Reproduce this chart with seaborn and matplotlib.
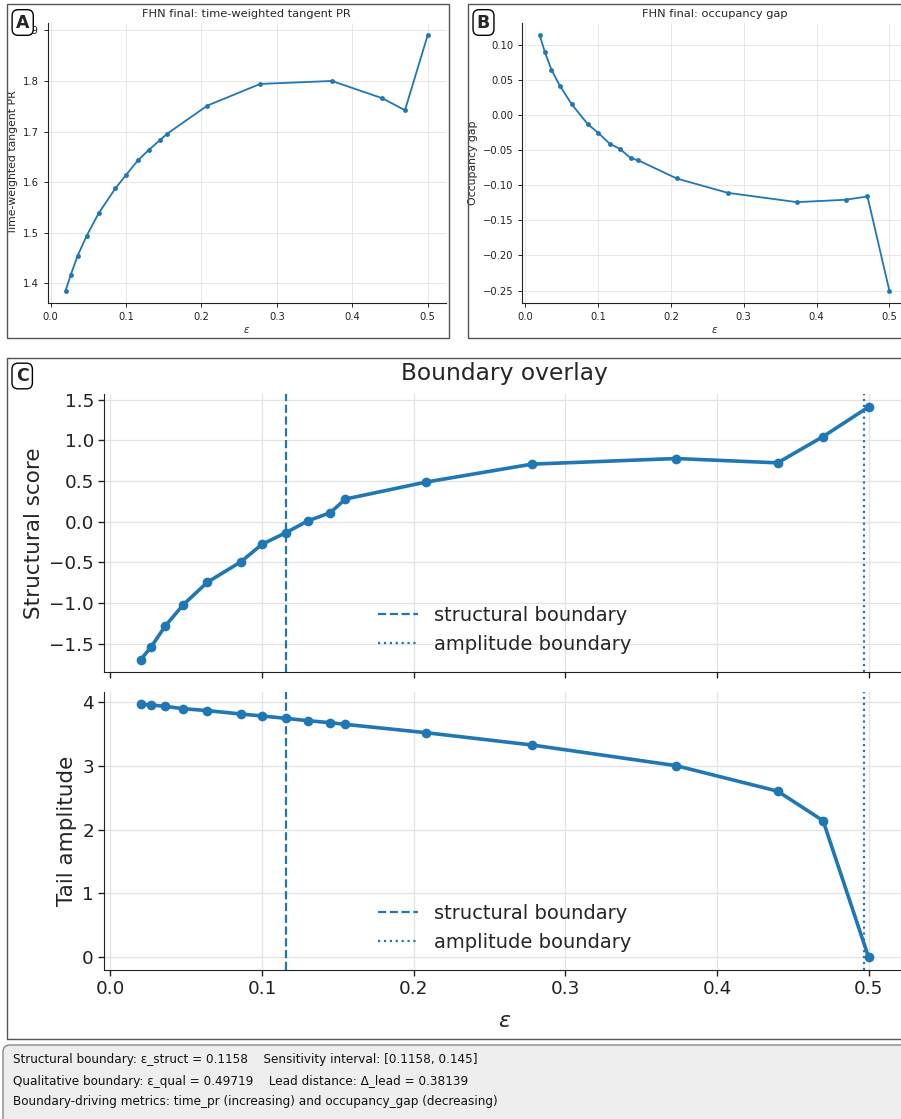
import matplotlib
matplotlib.use("Agg")
import matplotlib.pyplot as plt
import matplotlib.transforms as mtransforms
from matplotlib import font_manager
from matplotlib.patches import Rectangle, FancyBboxPatch
import seaborn as sns

# ---------------- data ----------------
eps = [0.02, 0.027, 0.036, 0.048, 0.064, 0.086, 0.1, 0.1158, 0.13, 0.145,
       0.155, 0.208, 0.278, 0.373, 0.44, 0.47, 0.5]
time_pr = [1.3855, 1.4171, 1.4546, 1.4940, 1.5388, 1.5875, 1.6138, 1.6428,
           1.6632, 1.6829, 1.6960, 1.7513, 1.7941, 1.8000, 1.7658, 1.7421, 1.8900]
occ_gap = [0.1133, 0.0896, 0.0645, 0.0408, 0.0152, -0.0132, -0.0251, -0.0407,
           -0.0483, -0.0615, -0.0644, -0.0904, -0.1108, -0.1241, -0.1207, -0.1160, -0.2500]
struct_score = [-1.696, -1.537, -1.287, -1.022, -0.744, -0.494, -0.278, -0.135,
                0.008, 0.110, 0.278, 0.486, 0.707, 0.776, 0.723, 1.046, 1.410]
tail_amp = [3.958, 3.948, 3.927, 3.890, 3.860, 3.807, 3.776, 3.739, 3.703,
            3.671, 3.645, 3.515, 3.322, 2.999, 2.600, 2.137, 0.000]
eps_struct = 0.1158
eps_qual = 0.49719

info_lines = [
    "Structural boundary: \u03b5_struct = 0.1158    Sensitivity interval: [0.1158, 0.145]",
    "Qualitative boundary: \u03b5_qual = 0.49719    Lead distance: \u0394_lead = 0.38139",
    "Boundary-driving metrics: time_pr (increasing) and occupancy_gap (decreasing)",
]

# ---------------- layout ----------------
sns.set_style("ticks")
plt.rcParams["font.family"] = ["DejaVu Sans"]
C0 = "#1f77b4"
W, H = 901, 1119
fig = plt.figure(figsize=(W / 100, H / 100), dpi=100)


def ax_px(l, t, r, b):
    return fig.add_axes([l / W, 1 - b / H, (r - l) / W, (b - t) / H])


def frame_px(l, t, r, b, **kw):
    rect = Rectangle((l / W, 1 - b / H), (r - l) / W, (b - t) / H,
                     transform=fig.transFigure, fill=False, **kw)
    fig.add_artist(rect)


def style_ax(ax, tick_fs, grid_lw=0.8):
    sns.despine(ax=ax)
    ax.grid(True, color="#e3e3e3", lw=grid_lw)
    ax.set_axisbelow(True)
    ax.tick_params(labelsize=tick_fs, colors="#222222")
    for s in ("left", "bottom"):
        ax.spines[s].set_color("#222222")


# panel frames
frame_px(7.3, 4.3, 449, 338, edgecolor="#555555", lw=1.0)
frame_px(468.3, 4.3, 930, 338, edgecolor="#555555", lw=1.0)
frame_px(7.3, 357.7, 930, 1039, edgecolor="#555555", lw=1.0)

# ---------- Panel A ----------
axA = ax_px(47.5, 22.7, 445.7, 303.3)
sns.lineplot(x=eps, y=time_pr, ax=axA, color=C0, marker="o", markersize=3.5,
             markeredgewidth=0, linewidth=1.3)
style_ax(axA, 7.2, 0.6)
axA.tick_params(length=3, width=0.7)
axA.set_title("FHN final: time-weighted tangent PR", fontsize=8.2, pad=4)
axA.set_ylabel("Time-weighted tangent PR", fontsize=7.8, labelpad=3)
axA.set_xlabel(r"$\epsilon$", fontsize=7.5, labelpad=2)

# ---------- Panel B ----------
axB = ax_px(522.3, 22.7, 906.8, 303.3)
sns.lineplot(x=eps, y=occ_gap, ax=axB, color=C0, marker="o", markersize=3.5,
             markeredgewidth=0, linewidth=1.3)
style_ax(axB, 7.2, 0.6)
axB.tick_params(length=3, width=0.7)
axB.set_title("FHN final: occupancy gap", fontsize=8.2, pad=4)
axB.set_ylabel("Occupancy gap", fontsize=7.8, labelpad=3)
axB.set_xlabel(r"$\epsilon$", fontsize=7.5, labelpad=2)

# ---------- Panel C ----------
axC1 = ax_px(104.3, 394.3, 905, 672.3)
axC2 = ax_px(104.3, 691.7, 905, 970)
axC2.sharex(axC1)

for ax, yv, ylab in ((axC1, struct_score, "Structural score"),
                     (axC2, tail_amp, "Tail amplitude")):
    sns.lineplot(x=eps, y=yv, ax=ax, color=C0, marker="o", markersize=7,
                 markeredgewidth=0, linewidth=2.6)
    ax.axvline(eps_struct, color=C0, ls="--", lw=1.6, label="structural boundary")
    ax.axvline(eps_qual, color=C0, ls=":", lw=1.6, label="amplitude boundary")
    style_ax(ax, 13.2, 0.9)
    ax.tick_params(length=4, width=1.0)
    ax.set_ylabel(ylab, fontsize=15.5)
    ax.legend(loc="lower center", frameon=False, fontsize=14,
              handlelength=2.06, handletextpad=0.8,
              borderaxespad=0.55, labelspacing=0.5)

axC1.tick_params(labelbottom=False)
axC1.set_xlabel("")
axC1.set_title("Boundary overlay", fontsize=16.8, pad=10)
axC2.set_xlabel(r"$\epsilon$", fontsize=16, labelpad=9)

# ---------- panel letters ----------
lab_kw = dict(fontsize=12.5, fontweight="bold", ha="center", va="center",
              bbox=dict(boxstyle="round,pad=0.22,rounding_size=0.35",
                        fc="white", ec="black", lw=1.0), zorder=10)
fig.text(22.7 / W, 1 - 22.5 / H, "A", **lab_kw)
fig.text(483.5 / W, 1 - 22.5 / H, "B", **lab_kw)
fig.text(22.2 / W, 1 - 376 / H, "C", **lab_kw)

# ---------- info box ----------
box = FancyBboxPatch((3, -20), 940, (H - 1045) + 20,
                     boxstyle="round,pad=0,rounding_size=7",
                     transform=mtransforms.IdentityTransform(),
                     facecolor="#eeeeee", edgecolor="#888888", lw=1.0)
fig.add_artist(box)

# choose a narrow font if one is installed
info_font = dict(family="DejaVu Sans")
try:
    p = font_manager.findfont(font_manager.FontProperties(family="DejaVu Sans",
                                                          stretch="condensed"),
                              fallback_to_default=False)
    if "ondensed" in p:
        info_font = dict(family="DejaVu Sans", stretch="condensed")
    else:
        p2 = font_manager.findfont(font_manager.FontProperties(family="Liberation Sans Narrow"),
                                   fallback_to_default=False)
        if "Narrow" in p2:
            info_font = dict(family="Liberation Sans Narrow")
except Exception:
    pass

texts = []
for i, line in enumerate(info_lines):
    t = fig.text(13 / W, 1 - (1060 + 21 * i) / H, line, fontsize=10.5,
                 va="center", ha="left", color="#111111", **info_font)
    texts.append(t)

# fit the width of the first line close to the reference
renderer = fig.canvas.get_renderer()
w0 = texts[0].get_window_extent(renderer).width
scale = 465.0 / w0
new_fs = min(11.0, 10.5 * scale)
for t in texts:
    t.set_fontsize(new_fs)

fig.savefig("out.png", dpi=100)
